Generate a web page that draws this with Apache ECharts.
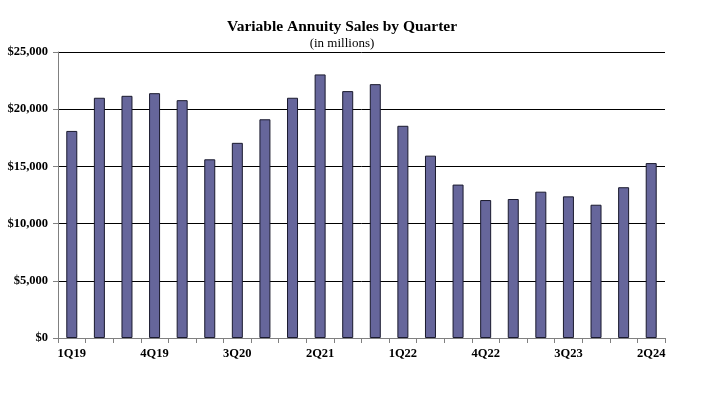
<!DOCTYPE html>
<html><head><meta charset="utf-8">
<script src="https://cdn.jsdelivr.net/npm/echarts@6/dist/echarts.min.js"></script>
<style>html,body{margin:0;padding:0;background:#fff}#c{width:720px;height:395px}</style>
</head><body><div id="c"></div>
<script>
var categories = ['1Q19','2Q19','3Q19','4Q19','1Q20','2Q20','3Q20','4Q20','1Q21','2Q21','3Q21','4Q21','1Q22','2Q22','3Q22','4Q22','1Q23','2Q23','3Q23','4Q23','1Q24','2Q24'];
var sales = [18100,21000,21170,21400,20790,15620,17060,19120,21000,23040,21580,22190,18550,15940,13410,12060,12150,12790,12380,11650,13180,15290];
var yTicks = [0,5000,10000,15000,20000,25000];
var chart = echarts.init(document.getElementById('c'));
var serif = '"Liberation Serif", "Times New Roman", serif';
chart.setOption({
  animation:false,
  title:{text:'Variable Annuity Sales by Quarter', subtext:'(in millions)', left:337, textAlign:'center', top:14, itemGap:2,
    textStyle:{fontFamily:serif, fontWeight:'bold', fontSize:15.5, color:'#000'},
    subtextStyle:{fontFamily:serif, fontSize:13, color:'#000'}},
  grid:{left:58, right:55, top:52, bottom:57},
  xAxis:{type:'category', data:categories,
    axisLine:{lineStyle:{color:'#808080', width:1}},
    axisTick:{show:true, alignWithLabel:false, interval:0, length:5, lineStyle:{color:'#808080'}},
    axisLabel:{interval:2, fontFamily:serif, fontWeight:'bold', fontSize:12.5, color:'#000', margin:9}},
  yAxis:{type:'value', min:yTicks[0], max:yTicks[yTicks.length-1], interval:5000,
    axisLine:{show:true, lineStyle:{color:'#808080'}},
    axisTick:{show:true, length:5, lineStyle:{color:'#808080'}},
    splitLine:{lineStyle:{color:'#000', width:1}},
    axisLabel:{fontFamily:serif, fontWeight:'bold', fontSize:12.5, color:'#000', margin:10,
      formatter:function(v){return '$'+v.toLocaleString('en-US');}}},
  series:[{type:'bar', data:sales, barWidth:11,
    itemStyle:{color:'#66669b', borderColor:'#1a1a2e', borderWidth:1}}]
});
</script></body></html>
